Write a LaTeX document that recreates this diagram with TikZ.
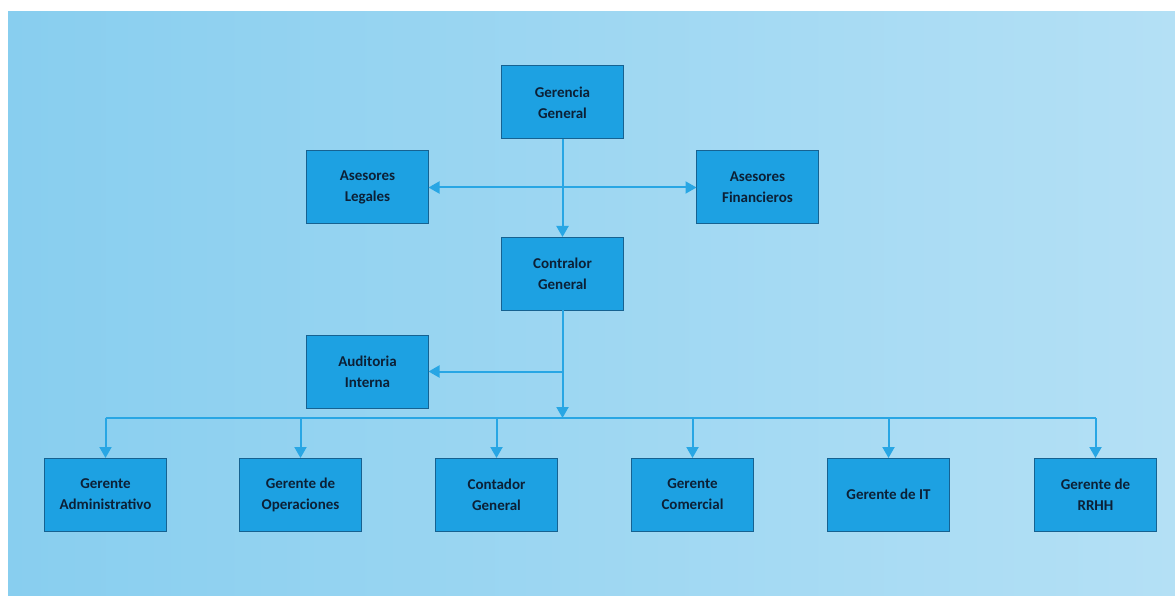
\documentclass[tikz,border=0pt]{standalone}
\usepackage{fontspec}
\newfontfamily\orgfont{Carlito}
\usetikzlibrary{arrows.meta,positioning}
\definecolor{bgleft}{RGB}{136,206,239}
\definecolor{bgright}{RGB}{180,224,245}
\definecolor{boxfill}{RGB}{29,161,226}
\definecolor{boxedge}{RGB}{22,98,145}
\definecolor{boxtext}{RGB}{12,32,54}
\definecolor{linkblue}{RGB}{40,166,228}
\tikzset{
  unit/.style={
    minimum width=122pt,
    minimum height=73pt,
    align=center,
    draw=boxedge,
    fill=boxfill,
    line width=1pt,
    outer sep=0pt,
    text=boxtext,
    font=\orgfont\bfseries\fontsize{15}{21}\selectfont,
  },
  wire/.style={
    line width=2pt,
    draw=linkblue,
  },
  link/.style={
    wire,
    -{Triangle[length=11pt,width=12pt]},
  },
}

\begin{document}
\begin{tikzpicture}[x=1pt,y=-1pt]
  \useasboundingbox (0,0) rectangle (1175,596);
  \shade[left color=bgleft, right color=bgright] (8,12) rectangle (1175,596);

  \node[unit] (gg) at (562.5,102.5) {Gerencia\\General};
  \node[unit, below left=12pt and 73pt of gg] (legal) {Asesores\\Legales};
  \node[unit, below right=12pt and 73pt of gg] (fin) {Asesores\\Financieros};
  \node[unit, below=98pt of gg] (cg) {Contralor\\General};
  \node[unit, below left=25pt and 73pt of cg] (audit) {Auditoria\\Interna};

  \node[unit] (admin) at (105.5,494.5) {Gerente\\Administrativo};
  \node[unit, right=73pt of admin] (oper) {Gerente de\\Operaciones};
  \node[unit, right=74pt of oper] (cont) {Contador\\General};
  \node[unit, right=74pt of cont] (com) {Gerente\\Comercial};
  \node[unit, right=74pt of com] (it) {Gerente de IT};
  \node[unit, right=85pt of it] (rrhh) {Gerente de\\RRHH};

  \coordinate (bus) at (562.5,418);

  \draw[link] (gg.south) -- (cg.north);
  \draw[wire, {Triangle[length=11pt,width=12pt]}-{Triangle[length=11pt,width=12pt]}]
    (legal.east) -- (fin.west);
  \draw[link] (cg.south) -- (bus);
  \draw[link] (cg.south |- audit.east) -- (audit.east);

  \draw[wire] (admin.north |- bus) -- (rrhh.north |- bus);
  \foreach \n in {admin,oper,cont,com,it,rrhh}
    \draw[link] (\n.north |- bus) -- (\n.north);
\end{tikzpicture}
\end{document}
